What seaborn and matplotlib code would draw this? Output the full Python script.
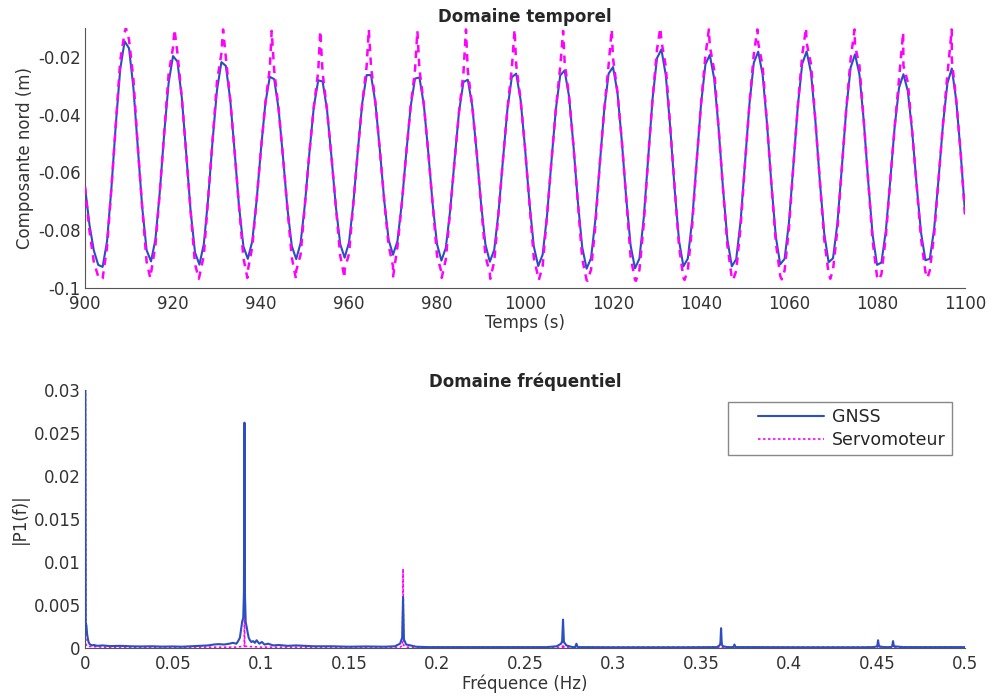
import numpy as np
import pandas as pd
import matplotlib
matplotlib.use("Agg")
import matplotlib.pyplot as plt
from matplotlib.lines import Line2D
from matplotlib.legend_handler import HandlerLine2D
import seaborn as sns

# Domaine temporel : échantillons à 1 s
temps = np.arange(900, 1101)

gnss_nord = [
    -0.065, -0.078, -0.087, -0.092, -0.0927, -0.0839, -0.0654, -0.0433, -0.0243, -0.0146,
    -0.0170, -0.0307, -0.0512, -0.0721, -0.0869, -0.0908, -0.0832, -0.0667, -0.0465, -0.0290,
    -0.0197, -0.0216, -0.0341, -0.0534, -0.0734, -0.0877, -0.0919, -0.0848, -0.0688, -0.0489,
    -0.0314, -0.0218, -0.0231, -0.0347, -0.0528, -0.0717, -0.0856, -0.0899, -0.0839, -0.0697,
    -0.0518, -0.0359, -0.0269, -0.0277, -0.0381, -0.0547, -0.0724, -0.0855, -0.0900, -0.0844,
    -0.0707, -0.0531, -0.0373, -0.0281, -0.0285, -0.0383, -0.0544, -0.0717, -0.0848, -0.0895,
    -0.0842, -0.0704, -0.0525, -0.0361, -0.0263, -0.0263, -0.0359, -0.0521, -0.0697, -0.0833,
    -0.0885, -0.0838, -0.0707, -0.0534, -0.0373, -0.0275, -0.0271, -0.0365, -0.0528, -0.0708,
    -0.0848, -0.0905, -0.0861, -0.0730, -0.0555, -0.0390, -0.0287, -0.0279, -0.0369, -0.0528,
    -0.0707, -0.0849, -0.0909, -0.0868, -0.0735, -0.0554, -0.0381, -0.0270, -0.0258, -0.0349,
    -0.0515, -0.0704, -0.0856, -0.0924, -0.0885, -0.0750, -0.0563, -0.0382, -0.0264, -0.0247,
    -0.0336, -0.0505, -0.0700, -0.0859, -0.0933, -0.0897, -0.0762, -0.0570, -0.0383, -0.0258,
    -0.0235, -0.0322, -0.0491, -0.0689, -0.0853, -0.0932, -0.0898, -0.0755, -0.0548, -0.0343,
    -0.0204, -0.0174, -0.0264, -0.0443, -0.0657, -0.0836, -0.0925, -0.0898, -0.0763, -0.0564,
    -0.0364, -0.0226, -0.0193, -0.0276, -0.0447, -0.0656, -0.0833, -0.0925, -0.0900, -0.0768,
    -0.0568, -0.0364, -0.0220, -0.0182, -0.0261, -0.0431, -0.0641, -0.0822, -0.0918, -0.0899,
    -0.0771, -0.0574, -0.0370, -0.0224, -0.0181, -0.0255, -0.0422, -0.0629, -0.0811, -0.0911,
    -0.0897, -0.0776, -0.0584, -0.0383, -0.0237, -0.0191, -0.0260, -0.0424, -0.0631, -0.0816,
    -0.0920, -0.0912, -0.0803, -0.0629, -0.0444, -0.0307, -0.0260, -0.0318, -0.0460, -0.0643,
    -0.0808, -0.0904, -0.0899, -0.0793, -0.0620, -0.0432, -0.0291, -0.0240, -0.035, -0.053,
    -0.074,
]

servo_nord = [
    -0.065, -0.080, -0.091, -0.096, -0.0967, -0.0859, -0.0654, -0.0433, -0.0213, -0.0116,
    -0.0140, -0.0277, -0.0512, -0.0721, -0.0909, -0.0948, -0.0852, -0.0667, -0.0465, -0.0260,
    -0.0167, -0.0186, -0.0341, -0.0534, -0.0734, -0.0917, -0.0959, -0.0888, -0.0688, -0.0489,
    -0.0284, -0.0188, -0.0201, -0.0347, -0.0528, -0.0717, -0.0896, -0.0939, -0.0859, -0.0697,
    -0.0518, -0.0359, -0.0239, -0.0247, -0.0381, -0.0547, -0.0724, -0.0895, -0.0940, -0.0884,
    -0.0707, -0.0531, -0.0373, -0.0251, -0.0255, -0.0383, -0.0544, -0.0717, -0.0888, -0.0935,
    -0.0882, -0.0704, -0.0525, -0.0361, -0.0233, -0.0233, -0.0359, -0.0521, -0.0697, -0.0853,
    -0.0925, -0.0858, -0.0707, -0.0534, -0.0373, -0.0245, -0.0241, -0.0365, -0.0528, -0.0708,
    -0.0888, -0.0945, -0.0901, -0.0730, -0.0555, -0.0390, -0.0257, -0.0249, -0.0369, -0.0528,
    -0.0707, -0.0889, -0.0949, -0.0908, -0.0735, -0.0554, -0.0381, -0.0240, -0.0228, -0.0349,
    -0.0515, -0.0704, -0.0896, -0.0964, -0.0925, -0.0750, -0.0563, -0.0382, -0.0234, -0.0217,
    -0.0336, -0.0505, -0.0700, -0.0899, -0.0973, -0.0937, -0.0782, -0.0570, -0.0383, -0.0228,
    -0.0205, -0.0322, -0.0491, -0.0689, -0.0893, -0.0972, -0.0938, -0.0775, -0.0548, -0.0343,
    -0.0174, -0.0144, -0.0234, -0.0443, -0.0657, -0.0856, -0.0965, -0.0938, -0.0783, -0.0564,
    -0.0364, -0.0196, -0.0163, -0.0246, -0.0447, -0.0656, -0.0853, -0.0965, -0.0940, -0.0788,
    -0.0568, -0.0364, -0.0190, -0.0152, -0.0231, -0.0431, -0.0641, -0.0842, -0.0958, -0.0939,
    -0.0791, -0.0574, -0.0370, -0.0194, -0.0151, -0.0225, -0.0422, -0.0629, -0.0831, -0.0951,
    -0.0937, -0.0796, -0.0584, -0.0383, -0.0207, -0.0161, -0.0230, -0.0424, -0.0631, -0.0836,
    -0.0960, -0.0952, -0.0823, -0.0629, -0.0444, -0.0277, -0.0230, -0.0288, -0.0460, -0.0643,
    -0.0828, -0.0944, -0.0939, -0.0813, -0.0620, -0.0432, -0.0261, -0.0210, -0.035, -0.053,
    -0.075,
]

# sommets et creux du servomoteur (entre deux échantillons)
servo_pic_t = [909.3, 920.34, 931.38, 942.42, 953.46, 964.5, 975.54, 986.58, 997.62,
               1008.66, 1019.7, 1030.74, 1041.78, 1052.82, 1063.86, 1074.9, 1085.94, 1096.98]
servo_pic = [-0.0100, -0.0105, -0.0105, -0.0110, -0.0110, -0.0105, -0.0110, -0.0105, -0.0105,
             -0.0110, -0.0105, -0.0100, -0.0105, -0.0105, -0.0100, -0.0105, -0.0115, -0.0105]
servo_creux_t = [903.7, 914.82, 925.86, 936.9, 947.94, 958.98, 970.02, 981.06, 992.1,
                 1003.14, 1014.18, 1025.22, 1036.26, 1047.3, 1058.34, 1069.38, 1080.42, 1091.46]
servo_creux = [-0.0970, -0.0965, -0.0968, -0.0965, -0.0968, -0.0965, -0.0960, -0.0965, -0.0968,
               -0.0972, -0.0975, -0.0975, -0.0972, -0.0972, -0.0970, -0.0968, -0.0972, -0.0965]

# Domaine fréquentiel : spectre d'amplitude |P1(f)|
gnss_freq = [
    0, 0.0004, 0.0008, 0.0012, 0.0016,
    0.002, 0.0025, 0.003, 0.004, 0.005,
    0.007, 0.01, 0.014, 0.02, 0.026,
    0.032, 0.038, 0.044, 0.05, 0.055,
    0.06, 0.065, 0.07, 0.073, 0.076,
    0.079, 0.082, 0.084, 0.086, 0.087,
    0.088, 0.0887, 0.0893, 0.0899, 0.0903,
    0.0906, 0.0909, 0.0913, 0.0918, 0.0924,
    0.093, 0.0937, 0.0945, 0.0955, 0.0965,
    0.0975, 0.099, 0.1005, 0.102, 0.104,
    0.107, 0.11, 0.115, 0.12, 0.13,
    0.14, 0.15, 0.16, 0.17, 0.176,
    0.179, 0.1802, 0.1807, 0.1812, 0.1825,
    0.185, 0.188, 0.195, 0.21, 0.23,
    0.25, 0.262, 0.268, 0.2705, 0.2711,
    0.2716, 0.2721, 0.2735, 0.277, 0.2785,
    0.2792, 0.2799, 0.285, 0.3, 0.32,
    0.34, 0.355, 0.359, 0.3605, 0.361,
    0.3614, 0.3618, 0.3625, 0.365, 0.3684,
    0.369, 0.3696, 0.38, 0.41, 0.44,
    0.448, 0.4501, 0.4506, 0.4511, 0.454,
    0.458, 0.4586, 0.4591, 0.4596, 0.465,
    0.48, 0.5,
]
gnss_amp = [
    0.055, 0.0030, 0.0026, 0.0016, 0.0011,
    0.0007, 0.0005, 0.0004, 0.0003, 0.00035,
    0.00025, 0.0003, 0.00022, 0.00025, 0.0002,
    0.00018, 0.0002, 0.00016, 0.00018, 0.00015,
    0.0002, 0.00025, 0.0003, 0.0004, 0.00045,
    0.0004, 0.0005, 0.0006, 0.0005, 0.0008,
    0.0012, 0.0022, 0.0031, 0.0035, 0.0065,
    0.0262, 0.0060, 0.0030, 0.0025, 0.0018,
    0.0012, 0.0009, 0.0007, 0.0008, 0.0006,
    0.0009, 0.0005, 0.0007, 0.0004, 0.0005,
    0.0003, 0.00035, 0.00025, 0.0003, 0.0002,
    0.0002, 0.00015, 0.00018, 0.00015, 0.0002,
    0.0005, 0.0012, 0.0059, 0.0010, 0.0004,
    0.0003, 0.00015, 0.0001, 0.0001, 0.0001,
    0.0001, 0.0001, 0.0002, 0.0005, 0.0008,
    0.0033, 0.0007, 0.0003, 0.0001, 0.0001,
    0.0005, 0.0001, 0.0001, 0.00008, 0.00008,
    0.00008, 0.0001, 0.0001, 0.0003, 0.0005,
    0.0023, 0.0004, 0.0002, 0.0001, 0.0001,
    0.0004, 0.0001, 0.0001, 0.00008, 0.00008,
    0.0001, 0.0002, 0.0009, 0.0002, 0.0001,
    0.0001, 0.0002, 0.0008, 0.0002, 0.0001,
    0.0001, 0.0001,
]

servo_freq = [
    0, 0.0005, 0.001, 0.01, 0.05,
    0.085, 0.0905, 0.0906, 0.0907, 0.1,
    0.15, 0.179, 0.1804, 0.1807, 0.1810,
    0.183, 0.25, 0.27, 0.2713, 0.2716,
    0.2719, 0.29, 0.35, 0.3608, 0.3614,
    0.3620, 0.38, 0.44, 0.4503, 0.4506,
    0.4509, 0.47, 0.5,
]
servo_amp = [
    0.054, 0.0005, 0.0002, 0.0001, 0.0001,
    0.0001, 0.0002, 0.0240, 0.0002, 0.0001,
    0.0001, 0.0001, 0.0003, 0.0092, 0.0003,
    0.0001, 0.0001, 0.0001, 0.0001, 0.0016,
    0.0001, 0.0001, 0.0001, 0.0001, 0.0011,
    0.0001, 0.0001, 0.0001, 0.0001, 0.0006,
    0.0001, 0.0001, 0.0001,
]

xt_temps = [900, 920, 940, 960, 980, 1000, 1020, 1040, 1060, 1080, 1100]
yt_temps = [-0.1, -0.08, -0.06, -0.04, -0.02]
yt_temps_lab = ["-0.1", "-0.08", "-0.06", "-0.04", "-0.02"]
xt_freq = [0, 0.05, 0.1, 0.15, 0.2, 0.25, 0.3, 0.35, 0.4, 0.45, 0.5]
xt_freq_lab = ["0", "0.05", "0.1", "0.15", "0.2", "0.25", "0.3", "0.35", "0.4", "0.45", "0.5"]
yt_freq = [0, 0.005, 0.01, 0.015, 0.02, 0.025, 0.03]
yt_freq_lab = ["0", "0.005", "0.01", "0.015", "0.02", "0.025", "0.03"]

BLEU = "#2b4fc1"
MAGENTA = "#ff00ff"
GRIS = "#333333"

# servomoteur : échantillons + sommets + creux, triés dans le temps
servo = pd.concat([
    pd.DataFrame({"t": temps, "nord": servo_nord}),
    pd.DataFrame({"t": servo_pic_t, "nord": servo_pic}),
    pd.DataFrame({"t": servo_creux_t, "nord": servo_creux}),
]).sort_values("t")

sns.set_style("white")
plt.rcParams["font.family"] = ["DejaVu Sans"]

fig = plt.figure(figsize=(9.92, 6.97), dpi=100)
ax1 = fig.add_axes([0.0857, 0.5868, 0.8871, 0.3730])
ax2 = fig.add_axes([0.0857, 0.0703, 0.8871, 0.3702])

# --- Domaine temporel ---
sns.lineplot(x=temps, y=gnss_nord, ax=ax1, color=BLEU, linewidth=1.5,
             estimator=None, sort=False, zorder=2)
sns.lineplot(data=servo, x="t", y="nord", ax=ax1, color=MAGENTA, linewidth=1.8,
             linestyle=(0, (3, 2.5)), estimator=None, sort=False, zorder=3)
ax1.set_xlim(900, 1100)
ax1.set_ylim(-0.1, -0.01)
ax1.set_xticks(xt_temps)
ax1.set_xticklabels([str(v) for v in xt_temps])
ax1.set_yticks(yt_temps)
ax1.set_yticklabels(yt_temps_lab)
ax1.set_title("Domaine temporel", fontsize=12, fontweight="bold", pad=4)
ax1.set_xlabel("Temps (s)", fontsize=12, color=GRIS, labelpad=1)
ax1.set_ylabel("Composante nord (m)", fontsize=12, color=GRIS, labelpad=3)

# --- Domaine fréquentiel ---
sns.lineplot(x=servo_freq, y=servo_amp, ax=ax2, color=MAGENTA, linewidth=1.2,
             linestyle=(0, (1.5, 1.5)), estimator=None, sort=False, zorder=2)
sns.lineplot(x=gnss_freq, y=gnss_amp, ax=ax2, color=BLEU, linewidth=1.5,
             estimator=None, sort=False, zorder=3)
ax2.set_xlim(0, 0.5)
ax2.set_ylim(0, 0.03)
ax2.set_xticks(xt_freq)
ax2.set_xticklabels(xt_freq_lab)
ax2.set_yticks(yt_freq)
ax2.set_yticklabels(yt_freq_lab)
ax2.set_title("Domaine fréquentiel", fontsize=12, fontweight="bold", pad=2)
ax2.set_xlabel("Fréquence (Hz)", fontsize=12, color=GRIS, labelpad=1)
ax2.set_ylabel("|P1(f)|", fontsize=12, color=GRIS, labelpad=3)

lignes = ax2.get_lines()
ax2.legend([lignes[1], lignes[0]], ["GNSS", "Servomoteur"], loc="upper right",
           bbox_to_anchor=(0.985, 0.955), fontsize=12.5, frameon=True,
           fancybox=False, framealpha=1, edgecolor="#888888",
           handlelength=5.2, borderpad=0.35, labelspacing=0.3,
           handletextpad=0.45, borderaxespad=0,
           handler_map={Line2D: HandlerLine2D(xpad=1.4)})

for ax in (ax1, ax2):
    for side in ("top", "right"):
        ax.spines[side].set_visible(False)
    for side in ("left", "bottom"):
        ax.spines[side].set_color("#555555")
        ax.spines[side].set_linewidth(0.8)
    ax.tick_params(direction="in", length=5, width=0.8, colors="#555555",
                   labelcolor=GRIS, labelsize=12)
    ax.tick_params(axis="x", pad=5)
    ax.tick_params(axis="y", pad=3)

fig.savefig("out.png", dpi=100)
